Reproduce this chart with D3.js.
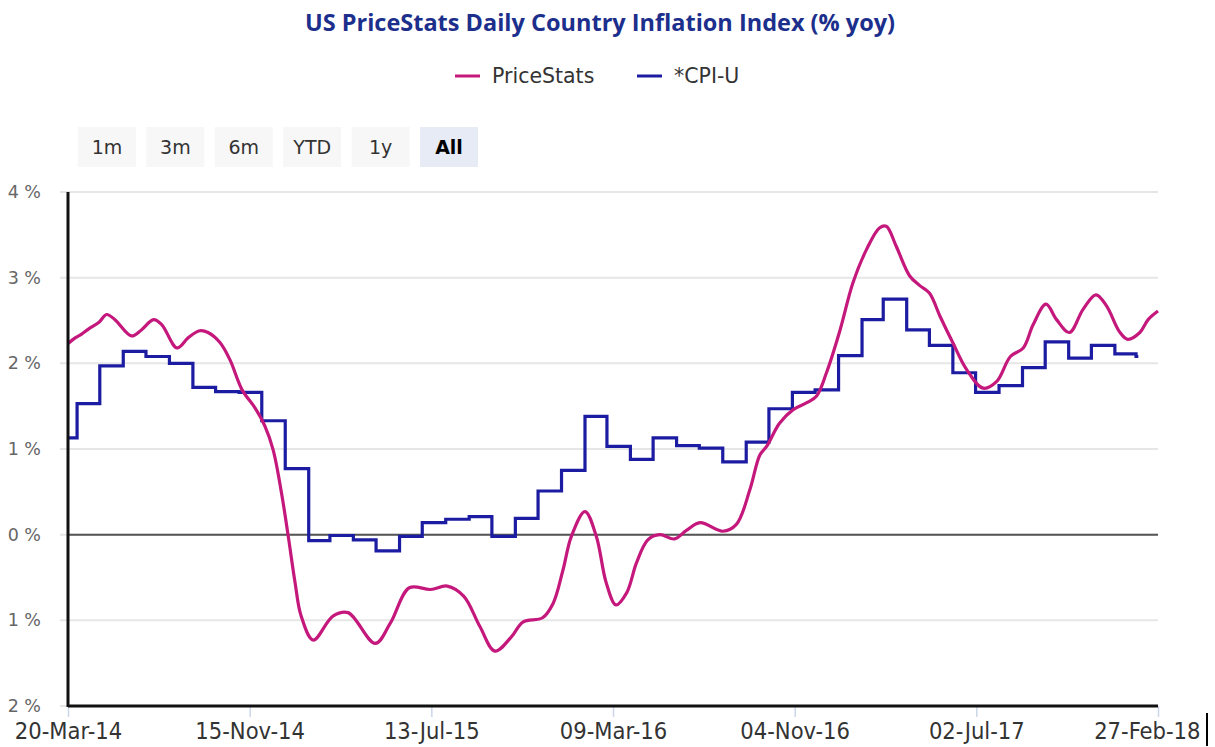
<!DOCTYPE html>
<html>
<head>
<meta charset="utf-8">
<script src="https://cdn.jsdelivr.net/npm/d3@7"></script>
<style>
  body { margin: 0; background: #fff; }
  svg { display: block; }
</style>
</head>
<body>
<div id="chart"></div>
<script>
// PriceStats daily index (date, % yoy)
var priceDates = ['2014-03-20','2014-03-30','2014-04-07','2014-04-16','2014-04-30','2014-05-10','2014-05-21',
  '2014-06-12','2014-06-25','2014-07-11','2014-07-22','2014-08-11','2014-08-26','2014-09-10','2014-09-21',
  '2014-10-07','2014-10-20','2014-11-05','2014-11-22','2014-12-05','2014-12-16','2014-12-27','2015-01-05',
  '2015-01-14','2015-01-22','2015-02-07','2015-03-05','2015-03-25','2015-04-30','2015-05-20','2015-06-14',
  '2015-07-12','2015-08-03','2015-08-25','2015-09-15','2015-10-05','2015-10-27','2015-11-11','2015-12-07',
  '2015-12-21','2016-01-03','2016-01-14','2016-02-01','2016-02-16','2016-02-29','2016-03-13','2016-03-27',
  '2016-04-09','2016-04-24','2016-05-10','2016-05-29','2016-06-14','2016-07-02','2016-08-01','2016-08-19',
  '2016-09-06','2016-09-19','2016-09-28','2016-10-15','2016-11-02','2016-11-20','2016-12-03','2016-12-16',
  '2017-01-03','2017-01-20','2017-02-07','2017-02-24','2017-03-05','2017-03-18','2017-04-05','2017-04-18',
  '2017-05-01','2017-05-15','2017-06-01','2017-06-19','2017-07-11','2017-07-29','2017-08-16','2017-09-02',
  '2017-09-15','2017-10-02','2017-10-16','2017-11-02','2017-11-20','2017-12-07','2017-12-21','2018-01-07',
  '2018-01-18','2018-02-03','2018-02-14','2018-02-27'];
var priceValues = [2.23,2.30,2.34,2.40,2.48,2.57,2.51,
  2.32,2.39,2.51,2.45,2.18,2.30,2.38,2.36,
  2.24,2.04,1.69,1.48,1.27,0.99,0.49,-0.02,
  -0.56,-0.95,-1.23,-0.95,-0.91,-1.27,-1.03,-0.62,
  -0.64,-0.60,-0.72,-1.07,-1.36,-1.19,-1.02,-0.97,
  -0.80,-0.41,-0.02,0.27,-0.02,-0.56,-0.82,-0.68,
  -0.33,-0.06,0.00,-0.05,0.05,0.14,0.04,0.12,
  0.53,0.93,1.03,1.30,1.46,1.54,1.62,1.89,
  2.39,2.94,3.33,3.58,3.60,3.37,3.02,2.91,
  2.82,2.55,2.24,1.93,1.71,1.79,2.08,2.18,
  2.45,2.69,2.51,2.36,2.63,2.80,2.67,2.37,
  2.28,2.36,2.51,2.61];

// CPI-U monthly steps (value shown from that date on)
var cpiDates = ['2014-03-20','2014-04-01','2014-05-01','2014-06-01','2014-07-01','2014-08-01','2014-09-01',
  '2014-10-01','2014-11-01','2014-12-01','2015-01-01','2015-02-01','2015-03-01','2015-04-01','2015-05-01',
  '2015-06-01','2015-07-01','2015-08-01','2015-09-01','2015-10-01','2015-11-01','2015-12-01','2016-01-01',
  '2016-02-01','2016-03-01','2016-04-01','2016-05-01','2016-06-01','2016-07-01','2016-08-01','2016-09-01',
  '2016-10-01','2016-11-01','2016-12-01','2017-01-01','2017-02-01','2017-03-01','2017-04-01','2017-05-01',
  '2017-06-01','2017-07-01','2017-08-01','2017-09-01','2017-10-01','2017-11-01','2017-12-01','2018-01-01',
  '2018-01-29','2018-02-01'];
var cpiValues = [1.13,1.53,1.97,2.14,2.08,2.00,1.72,
  1.67,1.66,1.33,0.77,-0.07,-0.01,-0.06,-0.19,
  -0.02,0.14,0.18,0.21,-0.02,0.19,0.51,0.75,
  1.38,1.03,0.88,1.13,1.04,1.01,0.85,1.08,
  1.47,1.66,1.69,2.09,2.51,2.75,2.39,2.21,
  1.89,1.66,1.74,1.95,2.25,2.06,2.21,2.11,
  2.08,2.08];

var seriesNames = ['PriceStats', '*CPI-U'];
var seriesColors = ['#c4187c', '#1c1ca3'];
var yTicks = [-2, -1, 0, 1, 2, 3, 4];
var yTickLabels = ['2 %', '1 %', '0 %', '1 %', '2 %', '3 %', '4 %'];
var buttonLabels = ['1m', '3m', '6m', 'YTD', '1y', 'All'];
var titleText = 'US PriceStats Daily Country Inflation Index (% yoy)';

var parse = d3.timeParse('%Y-%m-%d');
var fmt = d3.timeFormat('%d-%b-%y');

var W = 1215, H = 747;
var plotL = 68, plotR = 1158, plotT = 192, plotB = 706;

var svg = d3.select('#chart').append('svg')
    .attr('width', W)
    .attr('height', H);

var startDate = parse('2014-03-20'), endDate = parse('2018-02-27');

var xScale = d3.scaleTime()
    .domain([startDate, endDate])
    .range([plotL, plotR]);

var yScale = d3.scaleLinear()
    .domain([-2, 4])
    .range([plotB, plotT]);

// x ticks every 240 days from start
var xTicks = [];
for (var i = 0; i <= 6; i++) {
    xTicks.push(d3.timeDay.offset(startDate, i * 240));
}

// title
svg.append('text')
    .attr('x', 600)
    .attr('y', 31)
    .attr('text-anchor', 'middle')
    .style('font-family', 'Open Sans')
    .style('font-weight', 'bold')
    .style('font-size', '23.5px')
    .style('fill', '#1c2f8c')
    .text(titleText);

// legend
var legendX = [455, 637];
seriesNames.forEach(function(name, i) {
    var g = svg.append('g').attr('transform', 'translate(' + legendX[i] + ',76)');
    g.append('line')
        .attr('x1', 0).attr('x2', 25)
        .attr('y1', 0).attr('y2', 0)
        .attr('stroke', seriesColors[i])
        .attr('stroke-width', 3);
    g.append('text')
        .attr('x', 37)
        .attr('y', 7)
        .style('font-family', 'DejaVu Sans')
        .style('font-size', '20.5px')
        .style('fill', '#333')
        .text(name);
});

// range buttons
var btn = svg.selectAll('g.btn')
    .data(buttonLabels)
    .enter()
    .append('g')
    .attr('class', 'btn')
    .attr('transform', function(d, i) { return 'translate(' + (78 + i * 68.4) + ',127)'; });
btn.append('rect')
    .attr('width', 58)
    .attr('height', 40)
    .attr('fill', function(d) { return d == 'All' ? '#e6ebf5' : '#f7f7f7'; });
btn.append('text')
    .attr('x', 29)
    .attr('y', 27)
    .attr('text-anchor', 'middle')
    .style('font-family', 'DejaVu Sans')
    .style('font-size', '19px')
    .style('font-weight', function(d) { return d == 'All' ? 'bold' : 'normal'; })
    .style('fill', function(d) { return d == 'All' ? '#000' : '#333'; })
    .text(function(d) { return d; });

// grid
svg.append('g')
    .selectAll('line')
    .data(yTicks)
    .enter()
    .append('line')
    .attr('x1', 60).attr('x2', plotR)
    .attr('y1', function(d) { return yScale(d); })
    .attr('y2', function(d) { return yScale(d); })
    .attr('stroke', '#e6e6e6')
    .attr('stroke-width', 2);

// y labels
svg.append('g')
    .selectAll('text')
    .data(yTicks)
    .enter()
    .append('text')
    .attr('x', 41)
    .attr('y', function(d) { return yScale(d) + 6; })
    .attr('text-anchor', 'end')
    .style('font-family', 'DejaVu Sans')
    .style('font-size', '17.5px')
    .style('fill', '#666')
    .text(function(d, i) { return yTickLabels[i]; });

// zero line
svg.append('line')
    .attr('x1', plotL).attr('x2', plotR)
    .attr('y1', yScale(0)).attr('y2', yScale(0))
    .attr('stroke', '#555')
    .attr('stroke-width', 2);

// x axis
var xAxis = d3.axisBottom(xScale)
    .tickValues(xTicks)
    .tickFormat(fmt)
    .tickSize(11)
    .tickPadding(5);
var xg = svg.append('g')
    .attr('transform', 'translate(0,' + plotB + ')')
    .call(xAxis);
xg.select('.domain').remove();
xg.selectAll('.tick line').attr('stroke', '#ccd6eb').attr('stroke-width', 1.5);
xg.selectAll('.tick text')
    .style('font-family', 'DejaVu Sans Condensed')
    .style('font-size', '23.5px')
    .style('fill', '#333');
// last label is pulled back inside the chart
xg.selectAll('.tick text').filter(function(d, i) { return i == xTicks.length - 1; })
    .attr('text-anchor', 'end')
    .attr('x', 42);

// lines
var priceData = priceDates.map(function(d, i) { return [parse(d), priceValues[i]]; });
var cpiData = cpiDates.map(function(d, i) { return [parse(d), cpiValues[i]]; });

var smooth = d3.line()
    .x(function(d) { return xScale(d[0]); })
    .y(function(d) { return yScale(d[1]); })
    .curve(d3.curveCatmullRom.alpha(0.5));
var step = d3.line()
    .x(function(d) { return xScale(d[0]); })
    .y(function(d) { return yScale(d[1]); })
    .curve(d3.curveStepAfter);

svg.append('path')
    .datum(cpiData)
    .attr('d', step)
    .attr('fill', 'none')
    .attr('stroke', seriesColors[1])
    .attr('stroke-width', 3.2);

svg.append('path')
    .datum(priceData)
    .attr('d', smooth)
    .attr('fill', 'none')
    .attr('stroke', seriesColors[0])
    .attr('stroke-width', 3.2);

// axis frame lines
svg.append('line')
    .attr('x1', plotL).attr('x2', plotL)
    .attr('y1', plotT).attr('y2', plotB + 1)
    .attr('stroke', '#111')
    .attr('stroke-width', 3);
svg.append('line')
    .attr('x1', plotL).attr('x2', plotR)
    .attr('y1', plotB).attr('y2', plotB)
    .attr('stroke', '#111')
    .attr('stroke-width', 3);

// stray bar at bottom right
svg.append('rect')
    .attr('x', 1206).attr('y', 713)
    .attr('width', 2).attr('height', 33)
    .attr('fill', '#000');
</script>
</body>
</html>
